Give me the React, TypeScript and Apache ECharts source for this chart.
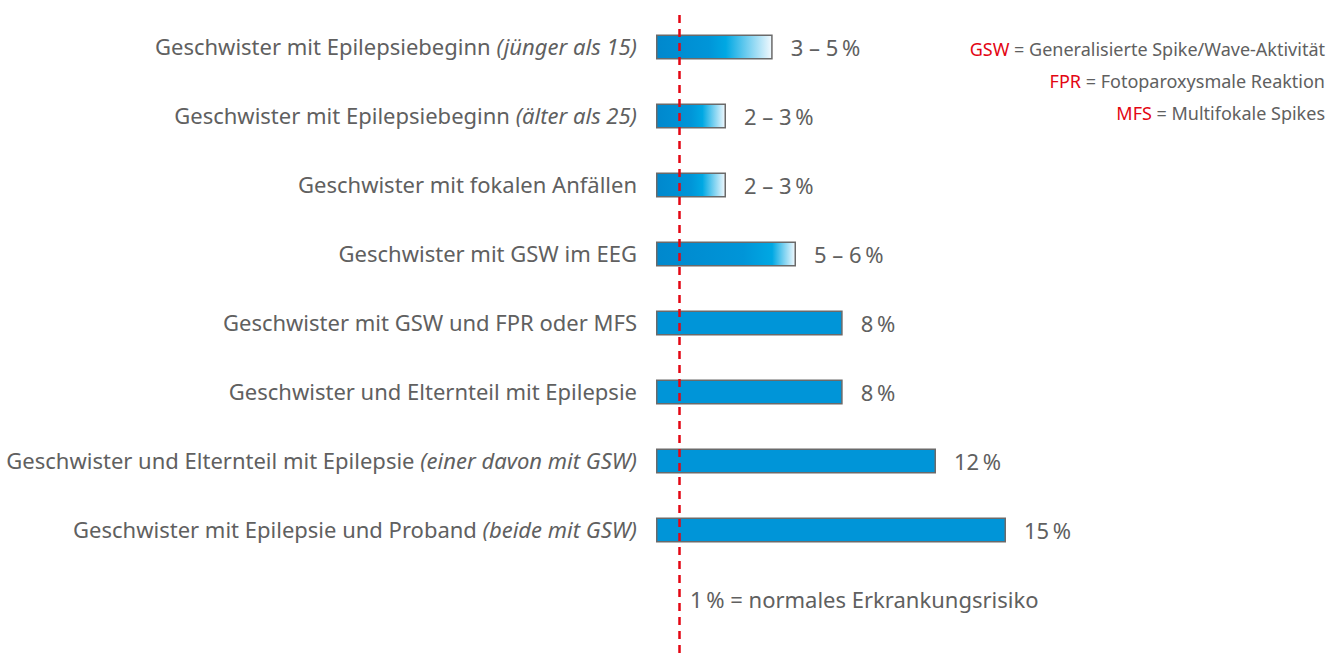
import React, { useEffect, useRef } from "react";
import * as echarts from "echarts";

const categoryMain = [
  "Geschwister mit Epilepsiebeginn ",
  "Geschwister mit Epilepsiebeginn ",
  "Geschwister mit fokalen Anfällen",
  "Geschwister mit GSW im EEG",
  "Geschwister mit GSW und FPR oder MFS",
  "Geschwister und Elternteil mit Epilepsie",
  "Geschwister und Elternteil mit Epilepsie ",
  "Geschwister mit Epilepsie und Proband ",
];
const categoryItalic = [
  "(jünger als 15)",
  "(älter als 25)",
  "",
  "",
  "",
  "",
  "(einer davon mit GSW)",
  "(beide mit GSW)",
];
const lowValues = [3, 2, 2, 5, 8, 8, 12, 15];
const highValues = [5, 3, 3, 6, 8, 8, 12, 15];
const valueLabels = ["3 – 5\u2009%", "2 – 3\u2009%", "2 – 3\u2009%", "5 – 6\u2009%", "8\u2009%", "8\u2009%", "12\u2009%", "15\u2009%"];
const normalRisk = 1;
const normalRiskText = "1\u2009% = normales Erkrankungsrisiko";
const legendAbbr = ["GSW", "FPR", "MFS"];
const legendText = [
  " = Generalisierte Spike/Wave-Aktivität",
  " = Fotoparoxysmale Reaktion",
  " = Multifokale Spikes",
];

const FONT = "'Noto Sans', sans-serif";
const GRAY = "#606060";
const RED = "#e30613";
const FS = 22;

export default function App() {
  const ref = useRef<HTMLDivElement>(null);
  useEffect(() => {
    if (!ref.current) return;
    const chart = echarts.init(ref.current, null, { renderer: "svg" });
    const cats = categoryMain.map((m, i) => `${m}|${i}`);
    const barData = highValues.map((h, i) => {
      const f = lowValues[i] / h;
      const color =
        f >= 1
          ? "#0095d8"
          : new echarts.graphic.LinearGradient(0, 0, 1, 0, [
              { offset: 0, color: "#0088cd" },
              { offset: f * 0.75, color: "#0095d8" },
              { offset: f, color: "#00a8e3" },
              { offset: 1, color: "#f2f9fe" },
            ]);
      return { value: h, itemStyle: { color } };
    });
    chart.setOption({
      animation: false,
      textStyle: { fontFamily: FONT },
      grid: [
        { left: 656, width: 350, top: 12.5, height: 552, containLabel: false },
        { left: 656, width: 350, top: 12, bottom: 0, containLabel: false },
      ],
      xAxis: [
        { gridIndex: 0, type: "value", min: 0, max: 15, show: false },
        { gridIndex: 1, type: "value", min: 0, max: 15, show: false },
      ],
      yAxis: [
        {
          gridIndex: 0,
          type: "category",
          inverse: true,
          data: cats,
          axisLine: { show: false },
          axisTick: { show: false },
          axisLabel: {
            margin: 19,
            padding: [0, 0, 2, 0],
            formatter: (v: string) => {
              const i = Number(v.split("|")[1]);
              return categoryItalic[i]
                ? `{n|${categoryMain[i]}}{i|${categoryItalic[i]}}`
                : `{n|${categoryMain[i]}}`;
            },
            rich: {
              n: { fontFamily: FONT, fontSize: FS, color: GRAY },
              i: { fontFamily: FONT, fontSize: FS, color: GRAY, fontStyle: "italic" },
            },
          },
        },
        { gridIndex: 1, type: "value", min: 0, max: 1, show: false },
      ],
      series: [
        {
          type: "bar",
          xAxisIndex: 0,
          yAxisIndex: 0,
          barWidth: 25,
          data: barData,
          itemStyle: { borderColor: "#6a6a6a", borderWidth: 1.5 },
          label: {
            show: true,
            position: "right",
            distance: 18,
            fontFamily: FONT,
            fontSize: FS,
            color: GRAY,
            formatter: (p: any) => valueLabels[p.dataIndex],
          },
          z: 2,
        },
        {
          type: "line",
          xAxisIndex: 1,
          yAxisIndex: 1,
          data: [],
          z: 5,
          markLine: {
            silent: true,
            symbol: "none",
            label: { show: false },
            lineStyle: { color: RED, type: [8, 6], width: 2.5 },
            data: [{ xAxis: normalRisk }],
          },
        },
      ],
      graphic: [
        {
          type: "text",
          left: 690,
          top: 588,
          style: { text: normalRiskText, font: `${FS}px ${FONT}`, fill: GRAY },
        },
        ...legendAbbr.map((a, i) => ({
          type: "text",
          right: 15,
          top: 40 + i * 32,
          style: {
            text: `{r|${a}}{g|${legendText[i]}}`,
            rich: {
              r: { fontFamily: FONT, fontSize: 18, fill: RED, color: RED },
              g: { fontFamily: FONT, fontSize: 18, fill: GRAY, color: GRAY },
            },
          },
        })),
      ],
    });
    return () => chart.dispose();
  }, []);
  return (
    <div
      ref={ref}
      style={{ position: "fixed", left: 0, top: 0, width: 1340, height: 653, background: "#fff" }}
    />
  );
}
